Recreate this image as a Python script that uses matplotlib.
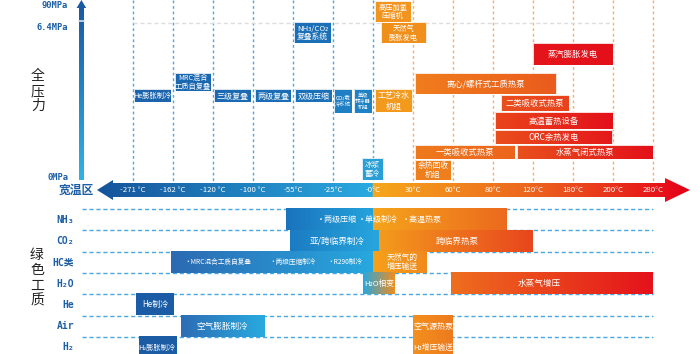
import numpy as np
import matplotlib.pyplot as plt
from matplotlib.patches import Rectangle, Polygon
from matplotlib.colors import to_rgb

plt.rcParams['font.family'] = ['Noto Sans CJK SC', 'DejaVu Sans']

# 温度刻度 (x 轴按刻度序号排布)
temps = ['-271 °C', '-162 °C', '-120 °C', '-100 °C', '-55°C', '-25°C', '-0°C',
         '30°C', '60°C', '80°C', '120°C', '180°C', '200°C', '280°C']
pressures = ['90MPa', '6.4MPa', '0MPa']
pressure_lvl = [5, 27, 178]

# 上半部分: 全压力 设备 (起止温度刻度, 压力层级 上/下)
top_labels = ['He膨胀制冷', 'MRC混合\n工质自复叠', '三级复叠', '两级复叠', '双级压缩',
              'CO₂载\n冷系统', '单级\n转冷器\n机组', 'NH₃/CO₂\n复叠系统', '冰浆\n蓄冷',
              '高压加氢\n压缩机', '天然气\n膨胀发电', '工艺冷水\n机组', '离心/螺杆式工质热泵',
              '一类吸收式热泵', '余热回收\n机组', '蒸汽膨胀发电', '二类吸收式热泵',
              '高温蓄热设备', 'ORC余热发电', '水蒸气闭式热泵']
top_start = [0.03, 1.05, 2.03, 3.05, 4.05, 5.03, 5.53, 4.03, 5.72,
             6.05, 6.2, 6.05, 7.05, 7.05, 7.05, 10.0, 9.2, 9.05, 9.05, 9.6]
top_end = [0.95, 1.95, 2.95, 3.95, 4.97, 5.47, 5.97, 4.95, 6.25,
           6.95, 7.33, 6.98, 10.58, 9.55, 7.95, 12.0, 10.9, 12.0, 11.98, 13.0]
top_hi = [89, 73, 89, 89, 89, 89, 89, 22, 158,
          1, 22, 89, 73, 145, 160, 43, 95, 112, 130, 145]
top_lo = [102, 91, 102, 102, 102, 113, 113, 43, 180,
          22, 43, 112, 94, 159, 180, 65, 111, 129, 144, 159]
top_c0 = ['#1c64ad', '#1b68b0', '#1b6ab2', '#1b6db5', '#1b70b7', '#1f7fc4', '#1f82c6',
          '#1b70b7', '#2a9fd6', '#f2951f', '#f0901c', '#f39a1e', '#f07d1d', '#ef7a1d',
          '#ee7f1c', '#e5161b', '#ea4f1e', '#ea451c', '#ea4f1d', '#e9501d']
top_c1 = ['#1c64ad', '#1b68b0', '#1b6ab2', '#1b6db5', '#1b70b7', '#1f7fc4', '#1f82c6',
          '#1b70b7', '#2a9fd6', '#f2951f', '#f0901c', '#f39a1e', '#ea5b1d', '#ec641d',
          '#ee7f1c', '#e3101a', '#e9431c', '#e3101a', '#e5181a', '#e3101a']
top_fs = [5.2, 5.2, 5.8, 5.8, 5.8, 3.9, 3.8, 5.6, 5.5,
          5.2, 5.2, 5.8, 6.0, 6.0, 5.6, 6.0, 6.0, 6.0, 6.0, 6.0]

# 下半部分: 绿色工质
rows = ['NH₃', 'CO₂', 'HC类', 'H₂O', 'He', 'Air', 'H₂']
bar_row = [0, 0, 1, 1, 2, 2, 3, 3, 4, 5, 5, 6]
bar_span = [1, 1, 1, 1, 1, 1, 1, 1, 1, 1, 2, 1]
bar_start = [3.83, 6.0, 3.93, 6.15, 0.95, 6.0, 5.75, 7.95, 0.08, 1.2, 7.0, 0.15]
bar_end = [6.0, 9.33, 6.15, 10.0, 6.0, 7.33, 6.55, 13.0, 1.03, 3.28, 8.0, 1.08]
bar_c0 = ['#1a73bd', '#f5a41c', '#1b7cc2', '#f39b1e', '#2c6ab3', '#f6a11b', '#27a8df',
          '#ee6e1f', '#1b5ca5', '#2d6db5', '#f3901e', '#1b5ca5']
bar_c1 = ['#25a3dc', '#ec6a1e', '#27a6de', '#e8461d', '#27a8df', '#f18a1e', '#f08c1e',
          '#e5121b', '#1b5ca5', '#28aadf', '#ee7a1d', '#1b5ca5']

# 条内文字 (行, 温度位置, 文字)
note_row = [0, 0, 0, 1, 1, 2, 2, 2, 2, 3, 3, 4, 5, 5, 6, 6]
note_x = [5.1, 6.13, 7.23, 5.1, 8.1, 2.13, 4.0, 5.3, 6.72, 6.15, 10.15, 0.55, 2.22, 7.5, 0.6, 7.5]
note_txt = ['·两级压缩', '·单级制冷', '·高温热泵', '亚/跨临界制冷', '跨临界热泵',
            '·MRC混合工质自复叠', '·两级压缩制冷', '·R290制冷', '天然气的\n增压输送',
            'H₂O相变', '水蒸气增压', 'He制冷', '空气膨胀制冷', '空气源热泵', 'H₂膨胀制冷', 'H₂增压输送']
note_size = [5.8, 5.8, 5.8, 6.2, 6.2, 4.8, 4.8, 4.8, 5.6, 5.6, 6.2, 5.8, 6.2, 5.8, 5.2, 5.6]

BLUE_TXT = '#1d5fa5'
row_top, row_h = 209, 21.3

fig = plt.figure(figsize=(7, 3.54), dpi=100)
ax = fig.add_axes([0, 0, 1, 1])
ax.axis('off')


def grad_box(x0, x1, y0, y1, c0, c1, edge='white', lw=0.6):
    g = np.linspace(0, 1, 64)[None, :, None]
    img = (1 - g) * np.array(to_rgb(c0)) + g * np.array(to_rgb(c1))
    ax.imshow(img, extent=(x0, x1, y1, y0), aspect='auto', interpolation='bilinear', zorder=3)
    if edge:
        ax.add_patch(Rectangle((x0, y0), x1 - x0, y1 - y0, fill=False, ec=edge, lw=lw, zorder=4))


# 竖向虚线 + 灰色 6.4MPa 虚线
for i in range(len(temps)):
    col = '#4aa8e0' if i <= 6 else '#f4b266'
    ax.plot([i, i], [0, 181], color=col, ls=(0, (2, 2)), lw=1, zorder=1)
ax.plot([0, 12], [23, 23], color='#dddddd', ls=(0, (3, 2)), lw=1, zorder=1)

# 上半部分设备
for i, lab in enumerate(top_labels):
    grad_box(top_start[i], top_end[i], top_hi[i], top_lo[i], top_c0[i], top_c1[i])
    ax.text((top_start[i] + top_end[i]) / 2, (top_hi[i] + top_lo[i]) / 2 + 0.5, lab,
            color='white', fontsize=top_fs[i], ha='center', va='center', linespacing=1.15, zorder=5)

# 纵向压力箭头
vx = -1.29
vimg = np.linspace(0, 1, 128)[:, None, None]
vimg = (1 - vimg) * np.array(to_rgb('#1a5aa3')) + vimg * np.array(to_rgb('#2fb3e5'))
ax.imshow(vimg, extent=(vx - 0.06, vx + 0.06, 180, 7), aspect='auto', interpolation='bilinear', zorder=3)
ax.add_patch(Polygon([(vx - 0.12, 8), (vx, 0), (vx + 0.12, 8)], closed=True, fc='#1a5aa3', ec='none', zorder=3))
ax.plot([vx - 0.07, vx + 0.07], [21, 21], color='#cfe3f3', lw=1.2, zorder=4)
for lab, lvl in zip(pressures, pressure_lvl):
    ax.text(-1.62, lvl, lab, color=BLUE_TXT, fontsize=6.3, ha='right', va='center',
            family=['DejaVu Sans Mono', 'Noto Sans CJK SC'], fontweight='bold')
ax.text(-2.38, 91, '全\n压\n力', fontsize=10, ha='center', va='center', linespacing=1.1, color='#222222')

# 横向温度箭头
xs = np.linspace(-0.9, 13.925, 600)
cols = np.zeros((1, len(xs), 3))
b0, b1 = np.array(to_rgb('#15539a')), np.array(to_rgb('#2aaae1'))
o0, o1, o2 = np.array(to_rgb('#f6a81c')), np.array(to_rgb('#ec641f')), np.array(to_rgb('#e50018'))
for k, x in enumerate(xs):
    if x <= 6:
        t = (x + 0.9) / 6.9
        cols[0, k] = (1 - t) * b0 + t * b1
    elif x <= 10:
        t = (x - 6) / 4
        cols[0, k] = (1 - t) * o0 + t * o1
    else:
        t = (x - 10) / 3.925
        cols[0, k] = (1 - t) * o1 + t * o2
arrow = Polygon([(-0.9, 190), (-0.5, 180), (-0.5, 183), (13.3, 183), (13.3, 178), (13.925, 190),
                 (13.3, 202), (13.3, 197), (-0.5, 197), (-0.5, 200)], closed=True,
                fc='none', ec='none', transform=ax.transData)
ax.add_patch(arrow)
im = ax.imshow(cols, extent=(-0.9, 13.925, 202, 178), aspect='auto', interpolation='bilinear', zorder=3)
im.set_clip_path(arrow)
for i, t in enumerate(temps):
    ax.text(i, 190.5, t, color='white', fontsize=5.6, ha='center', va='center', zorder=5)
ax.text(-1.43, 190, '宽温区', color=BLUE_TXT, fontsize=8.5, fontweight='bold', ha='center', va='center')

# 下半部分 行虚线 + 行名
for r in range(len(rows)):
    ax.text(-1.47, row_top + row_h * (r + 0.5), rows[r], color=BLUE_TXT, fontsize=7, ha='right',
            va='center', family=['DejaVu Sans Mono', 'Noto Sans CJK SC'], fontweight='bold')
    ax.plot([-1.28, 13.0], [row_top + row_h * r] * 2, color='#4aa8e0', ls=(0, (3, 2)), lw=1, zorder=1)
ax.text(-2.4, 278, '绿\n色\n工\n质', fontsize=10, ha='center', va='center', linespacing=1.1, color='#222222')

for i in range(len(bar_row)):
    y0 = row_top + row_h * bar_row[i]
    y1 = y0 + row_h * bar_span[i]
    grad_box(bar_start[i], bar_end[i], y0, min(y1, 354), bar_c0[i], bar_c1[i], edge=None)

for r, x, t, s in zip(note_row, note_x, note_txt, note_size):
    ax.text(x, row_top + row_h * (r + 0.5), t, color='white', fontsize=s, ha='center', va='center',
            linespacing=1.15, zorder=5)

ax.set_xlim(-133 / 40, (700 - 133) / 40)
ax.set_ylim(354, 0)
fig.savefig('out.png', dpi=100)
